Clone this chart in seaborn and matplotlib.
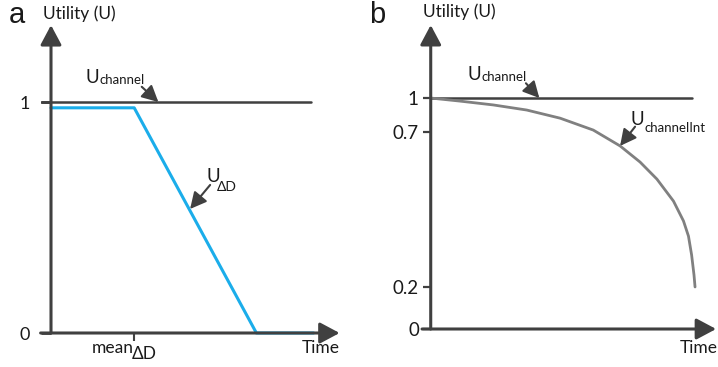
import numpy as np
import matplotlib
matplotlib.use("Agg")
import matplotlib.pyplot as plt
import seaborn as sns

# ==========================
# DATA
# ==========================

# panel a : channel utility and delta-D utility
chan_a_x = [-0.4, 10.0]
chan_a_y = [1.0, 1.0]
dd_x = [0.0, 3.2, 7.9, 10.1]
dd_y = [0.975, 0.975, 0.0, 0.0]
mean_dd = 3.2
ticks_a = [0, 1]
tick_labels_a = ["0", "1"]

# panel b : channel utility and interference utility
chan_b_x = [0.0, 9.94]
chan_b_y = [1.0, 1.0]
int_x = [0, 1.11, 2.38, 3.65, 4.92, 6.18, 7.2, 7.96, 8.6, 9.23, 9.61, 9.8, 9.92, 10.01, 10.05]
int_y = [1.0, 0.973, 0.939, 0.894, 0.822, 0.717, 0.655, 0.603, 0.548, 0.477, 0.413, 0.364, 0.303, 0.239, 0.2]
ticks_b = [0, 0.2, 0.7, 1]
tick_labels_b = ["0", "0.2", "0.7", "1"]

# ==========================
# STYLE
# ==========================

sns.set_style("white")
plt.rcParams["font.family"] = ["Lato", "DejaVu Sans"]

AX_COL = "#404040"
TXT = "#1a1a1a"
BLUE = "#1badea"
GREY = "#808080"
FS = 12.5

fig = plt.figure(figsize=(7.18, 3.67), dpi=100)
ax_a = fig.add_axes([40.6 / 718, 0.0297, 309.4 / 718, 0.944])
ax_b = fig.add_axes([420.2 / 718, 0.0406, 297.2 / 718, 0.944])


def axis_arrow(ax, start, end):
    ax.annotate("", xy=end, xytext=start,
                arrowprops=dict(arrowstyle="-|>,head_length=0.6,head_width=0.32",
                                color=AX_COL, lw=2.2, mutation_scale=20,
                                shrinkA=0, shrinkB=0))


def pointer(ax, start, end):
    ax.annotate("", xy=end, xytext=start,
                arrowprops=dict(arrowstyle="-|>,head_length=0.55,head_width=0.28",
                                color=AX_COL, lw=1.5, mutation_scale=18,
                                shrinkA=0, shrinkB=0))


def sub_label(ax, x, y, main, sub, size_main, size_sub, drop, gap=0.8):
    t = ax.text(x, y, main, fontsize=size_main, color=TXT, va="baseline", ha="left")
    ax.annotate(sub, xy=(1, 0), xycoords=t, xytext=(gap, -drop),
                textcoords="offset points", fontsize=size_sub, color=TXT,
                va="bottom", ha="left")


for ax in (ax_a, ax_b):
    for s in ax.spines.values():
        s.set_visible(False)
    ax.spines["left"].set_position(("data", 0))
    ax.spines["bottom"].set_position(("data", 0))
    ax.tick_params(left=True, bottom=True)

# ==========================
# PANEL A
# ==========================

ax_a.set_xlim(-0.4, 11.5)
ax_a.set_ylim(-0.1, 1.4)

sns.lineplot(x=chan_a_x, y=chan_a_y, ax=ax_a, color=AX_COL, linewidth=1.8)
sns.lineplot(x=dd_x, y=dd_y, ax=ax_a, color=BLUE, linewidth=2.2)

axis_arrow(ax_a, (-0.4, 0), (11.1, 0))
axis_arrow(ax_a, (0, 0), (0, 1.333))

ax_a.set_yticks(ticks_a, tick_labels_a)
ax_a.set_xticks([mean_dd], [""])
ax_a.tick_params(axis="y", direction="out", length=7, width=2, color=AX_COL,
                 pad=8, labelsize=13, labelcolor=TXT)
ax_a.tick_params(axis="x", direction="out", length=6, width=1.5, color=AX_COL)
ax_a.set_xlabel("")
ax_a.set_ylabel("")

ax_a.text(-1.31, 1.377, "a", fontsize=21, family="Liberation Sans",
          ha="center", va="center", color=TXT)
ax_a.text(-0.31, 1.381, "Utility (U)", fontsize=FS, ha="left", va="center", color=TXT)
ax_a.text(9.65, -0.087, "Time", fontsize=FS, ha="left", va="baseline", color=TXT)
sub_label(ax_a, 1.58, -0.087, "mean", "ΔD", FS, FS, 4, gap=-2)

sub_label(ax_a, 1.31, 1.082, "U", "channel", FS + 1, 9.5, 0)
pointer(ax_a, (3.49, 1.066), (4.13, 1.0))
sub_label(ax_a, 6.0, 0.654, "U", "ΔD", FS + 1, 10, 5.5, gap=-2.5)
pointer(ax_a, (6.12, 0.641), (5.35, 0.537))

# ==========================
# PANEL B
# ==========================

pos_vals = [-3, 0, 0.2, 0.7, 1, 3]
pos_disp = [-3, 0, 0.182, 0.853, 1, 3]
ax_b.set_yscale("function", functions=(lambda v: np.interp(v, pos_vals, pos_disp),
                                       lambda d: np.interp(d, pos_disp, pos_vals)))
ax_b.set_xlim(-0.4, 10.9)
ax_b.set_ylim(-0.1, 1.4)

sns.lineplot(x=chan_b_x, y=chan_b_y, ax=ax_b, color=AX_COL, linewidth=1.8)
sns.lineplot(x=int_x, y=int_y, ax=ax_b, color=GREY, linewidth=2.0)

axis_arrow(ax_b, (-0.33, 0), (10.85, 0))
axis_arrow(ax_b, (0, 0), (0, 1.316))

ax_b.set_yticks(ticks_b, tick_labels_b)
ax_b.set_xticks([])
ax_b.tick_params(axis="y", direction="out", length=6, width=1.6, color=AX_COL,
                 pad=2.5, labelsize=13.5, labelcolor=TXT)
ax_b.set_xlabel("")
ax_b.set_ylabel("")

ax_b.text(-2.02, 1.359, "b", fontsize=21, family="Liberation Sans",
          ha="center", va="center", color=TXT)
ax_b.text(-0.29, 1.372, "Utility (U)", fontsize=FS, ha="left", va="center", color=TXT)
ax_b.text(9.48, -0.104, "Time", fontsize=FS, ha="left", va="baseline", color=TXT)

sub_label(ax_b, 1.38, 1.078, "U", "channel", FS + 1, 9.5, 0)
pointer(ax_b, (3.62, 1.064), (4.13, 1.0))
sub_label(ax_b, 7.58, 0.761, "U", "channelInt", FS + 1, 9.5, 4)
pointer(ax_b, (7.77, 0.747), (7.2, 0.655))

fig.savefig("out.png", dpi=100)
